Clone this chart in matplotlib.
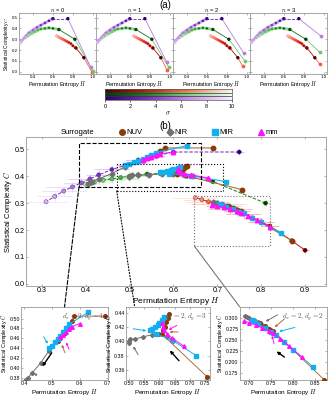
import numpy as np
import matplotlib
matplotlib.use("Agg")
import matplotlib.pyplot as plt
from matplotlib.colors import LinearSegmentedColormap
from matplotlib.lines import Line2D
from matplotlib.patches import Rectangle, ConnectionPatch

plt.rcParams['font.family'] = ['Liberation Sans', 'DejaVu Sans']
plt.rcParams['mathtext.fontset'] = 'cm'

# ---------------- data: panel (a) surrogate curves ----------------
a_sig = [0, 1, 2, 3, 4, 5, 6, 7, 8, 9, 10]
a_Hp = [0.75, 0.60, 0.56, 0.52, 0.48, 0.44, 0.40, 0.36, 0.32, 0.29, 0.27]
a_Cp = [0.49, 0.49, 0.47, 0.45, 0.43, 0.41, 0.385, 0.36, 0.32, 0.29, 0.27]
a_Hg = [0.82, 0.66, 0.60, 0.56, 0.52, 0.48, 0.45, 0.42, 0.39, 0.36, 0.33]
a_Cg = [0.30, 0.39, 0.40, 0.405, 0.40, 0.395, 0.385, 0.37, 0.355, 0.34, 0.32]
a_Hr = [0.91, 0.83, 0.80, 0.78, 0.76, 0.74, 0.72, 0.70, 0.68, 0.66, 0.64]
a_Cr = [0.13, 0.22, 0.24, 0.26, 0.27, 0.28, 0.29, 0.30, 0.31, 0.32, 0.33]
n_labels = ['0', '1', '2', '3']
end_Hp = [0.98, 0.97, 0.97, 0.97]
end_Cp = [0.04, 0.09, 0.17, 0.33]
end_Hg = [1.00, 0.99, 0.98, 0.96]
end_Cg = [0.01, 0.04, 0.10, 0.18]
end_Hr = [0.99, 0.97, 0.96, 0.96]
end_Cr = [0.00, 0.02, 0.05, 0.07]

# ---------------- data: panel (b) surrogate curves ----------------
b_sig = [0, 0.5, 1, 1.5, 2, 3, 4, 5, 6, 7, 8, 9, 10]
b_Hp = [0.75, 0.60, 0.56, 0.52, 0.49, 0.46, 0.43, 0.41, 0.39, 0.37, 0.35, 0.33, 0.31]
b_Cp = [0.49, 0.49, 0.475, 0.46, 0.44, 0.425, 0.405, 0.39, 0.375, 0.36, 0.345, 0.325, 0.305]
b_Hg = [0.81, 0.69, 0.63, 0.60, 0.57, 0.54, 0.52, 0.50, 0.48, 0.46, 0.44, 0.42, 0.40]
b_Cg = [0.30, 0.38, 0.40, 0.41, 0.41, 0.408, 0.405, 0.40, 0.395, 0.39, 0.385, 0.378, 0.37]
b_Hr = [0.90, 0.87, 0.82, 0.80, 0.78, 0.76, 0.745, 0.73, 0.715, 0.70, 0.68, 0.665, 0.65]
b_Cr = [0.125, 0.16, 0.215, 0.23, 0.245, 0.26, 0.27, 0.28, 0.29, 0.295, 0.305, 0.313, 0.32]
b_xerr = [0.01, 0.01, 0.02, 0.03, 0.02, 0.04, 0.03, 0.05, 0.04, 0.06, 0.05, 0.04, 0.05]
b_yerr = [0.01, 0.01, 0.012, 0.015, 0.012, 0.015, 0.018, 0.02, 0.018, 0.02, 0.015, 0.02, 0.018]

# ---------------- data: observations (dy = 4, 3, 2) ----------------
NUV_H4 = [0.52, 0.53, 0.545, 0.56, 0.57, 0.58, 0.69]
NUV_C4 = [0.455, 0.46, 0.47, 0.48, 0.495, 0.505, 0.505]
NIR_H4 = [0.405, 0.408, 0.412, 0.415, 0.43, 0.46, 0.49, 0.52]
NIR_C4 = [0.372, 0.375, 0.377, 0.38, 0.39, 0.41, 0.435, 0.455]
MIR_H4 = [0.49, 0.50, 0.51, 0.52, 0.53, 0.54, 0.55, 0.56, 0.63]
MIR_C4 = [0.44, 0.445, 0.452, 0.458, 0.465, 0.472, 0.48, 0.488, 0.513]
mm_H4 = [0.53, 0.54, 0.55, 0.56, 0.57, 0.60]
mm_C4 = [0.462, 0.467, 0.472, 0.478, 0.483, 0.49]

NUV_H3 = [0.757, 0.608, 0.612, 0.617, 0.622, 0.627, 0.632]
NUV_C3 = [0.35, 0.41, 0.415, 0.42, 0.427, 0.433, 0.438]
NIR_H3 = [0.50, 0.502, 0.505, 0.52, 0.545, 0.575, 0.60, 0.625, 0.645]
NIR_C3 = [0.398, 0.401, 0.403, 0.403, 0.406, 0.409, 0.41, 0.406, 0.40]
MIR_H3 = [0.72, 0.64, 0.59, 0.57, 0.575, 0.585, 0.595, 0.60, 0.61, 0.615]
MIR_C3 = [0.38, 0.402, 0.41, 0.415, 0.417, 0.42, 0.423, 0.426, 0.43, 0.434]
mm_H3 = [0.68, 0.64, 0.625, 0.615, 0.612, 0.61]
mm_C3 = [0.393, 0.405, 0.41, 0.415, 0.42, 0.425]

NUV_H2 = [0.725, 0.735, 0.745, 0.755, 0.87]
NUV_C2 = [0.288, 0.281, 0.275, 0.27, 0.161]
NIR_H2 = [0.69, 0.695, 0.70, 0.71, 0.72, 0.73, 0.74, 0.75]
NIR_C2 = [0.305, 0.302, 0.30, 0.295, 0.29, 0.284, 0.278, 0.272]
MIR_H2 = [0.705, 0.71, 0.72, 0.735, 0.75, 0.76, 0.78, 0.80, 0.845]
MIR_C2 = [0.296, 0.292, 0.286, 0.278, 0.268, 0.262, 0.245, 0.228, 0.19]
mm_H2 = [0.688, 0.70, 0.715, 0.73, 0.745, 0.755, 0.77, 0.79, 0.82]
mm_C2 = [0.293, 0.289, 0.284, 0.277, 0.27, 0.265, 0.253, 0.236, 0.212]

# ---------------- styles ----------------
cm_r = LinearSegmentedColormap.from_list('r', ['#4a0000', '#d01010', '#ff7050', '#fff4f0'])
cm_g = LinearSegmentedColormap.from_list('g', ['#003a00', '#1a8a1a', '#80d880', '#f4fff4'])
cm_p = LinearSegmentedColormap.from_list('p', ['#2a006e', '#7a30c0', '#c890e8', '#fbf2ff'])
C_NUV, C_NUVL = '#8b3a0a', '#b07040'
C_NIR = '#707070'
C_MIR = '#10b0f0'
C_mm = '#ff10ff'
SPINE = '#999999'

GROUPS = {
    4: [(NIR_H4, NIR_C4), (NUV_H4, NUV_C4), (MIR_H4, MIR_C4), (mm_H4, mm_C4)],
    3: [(NIR_H3, NIR_C3), (NUV_H3, NUV_C3), (MIR_H3, MIR_C3), (mm_H3, mm_C3)],
    2: [(NIR_H2, NIR_C2), (NUV_H2, NUV_C2), (MIR_H2, MIR_C2), (mm_H2, mm_C2)],
}

fig = plt.figure(figsize=(3.31, 4.0), dpi=100)


def style(ax, fs, pad=1.2):
    for s in ax.spines.values():
        s.set_color(SPINE)
        s.set_linewidth(0.6)
    ax.tick_params(direction='in', top=True, right=True, labelsize=fs,
                   width=0.4, length=1.5, color='#777777', pad=pad)


# ---------------- panel (a) ----------------
fig.text(0.5, 0.988, '(a)', ha='center', va='center', fontsize=7)
for i, n in enumerate(n_labels):
    ax = fig.add_axes([0.057 + i * 0.2326, 0.815, 0.2326, 0.152])
    style(ax, 3.2, pad=0.8)
    for H, C, cm, eH, eC, ls in [(a_Hr, a_Cr, cm_r, end_Hr[i], end_Cr[i], '-'),
                                 (a_Hg, a_Cg, cm_g, end_Hg[i], end_Cg[i], '-'),
                                 (a_Hp, a_Cp, cm_p, end_Hp[i], end_Cp[i], '--')]:
        cols = [cm(s / 10 * 0.85) for s in a_sig]
        ax.plot([H[0], eH], [C[0], eC], '-', color=cm(0.6), lw=0.6, zorder=2)
        ax.plot(H[:2], C[:2], ls, color=cm(0.25), lw=0.6, zorder=2)
        ax.plot(H[1:], C[1:], '-', color=cm(0.5), lw=2.0, alpha=0.6, zorder=2)
        for k, s in enumerate(a_sig):
            ax.errorbar(H[k], C[k], xerr=0.02, yerr=0.015, fmt='none',
                        ecolor=cm(0.7), elinewidth=0.4, alpha=0.6, zorder=1)
        ax.scatter(H, C, s=[6 if k < 2 else 3 for k in range(len(H))], c=cols,
                   edgecolors='none', zorder=3)
        ax.scatter([eH], [eC], s=3, color=cm(0.6), zorder=3)
    ax.set_xlim(0.26, 1.03)
    ax.set_ylim(-0.02, 0.54)
    ax.set_xticks([0.4, 0.6, 0.8, 1.0])
    ax.set_yticks([0.0, 0.1, 0.2, 0.3, 0.4, 0.5])
    ax.set_title('$n$ = ' + n, fontsize=4.2, pad=1.2)
    ax.set_xlabel('Permutation Entropy $H$', fontsize=4.0, labelpad=0)
    if i == 0:
        ax.set_ylabel('Statistical Complexity $C$', fontsize=3.6, labelpad=0.5)
    else:
        ax.tick_params(labelleft=False)

# ---------------- colorbar ----------------
cax = fig.add_axes([0.317, 0.75, 0.384, 0.028])
grad = np.linspace(0, 1, 256)
img = np.stack([cm_r(grad), cm_g(grad), cm_p(grad)])
cax.imshow(img, extent=[0, 10, 0, 3], aspect='auto')
for yy in [1, 2]:
    cax.axhline(yy, color='#333333', lw=0.5)
cax.set_yticks([])
cax.set_xticks([0, 2, 4, 6, 8, 10])
for s in cax.spines.values():
    s.set_color('#555555')
    s.set_linewidth(0.5)
cax.tick_params(labelsize=4, length=1.5, width=0.4, pad=1.5)
cax.set_xlabel(r'$\sigma$', fontsize=5, labelpad=1)

# ---------------- panel (b) ----------------
fig.text(0.5, 0.685, '(b)', ha='center', va='center', fontsize=7)
ax = fig.add_axes([0.078, 0.285, 0.906, 0.372])
style(ax, 5.2, pad=1.0)


def surrogate(ax, H, C, cm, ls, lw):
    for k, s in enumerate(b_sig):
        ax.errorbar(H[k], C[k], xerr=b_xerr[k], yerr=b_yerr[k], fmt='none',
                    ecolor=cm(0.55 + s / 30), elinewidth=0.6, alpha=0.55, zorder=1)
    ax.plot(H, C, ls, color=cm(0.3), lw=lw, zorder=2)
    ax.scatter(H, C, s=9, c=[cm(s / 10 * 0.8) for s in b_sig],
               edgecolors=[cm(0.2)], linewidths=0.3, zorder=3)


surrogate(ax, b_Hr, b_Cr, cm_r, '-', 0.7)
surrogate(ax, b_Hg, b_Cg, cm_g, '--', 0.7)
surrogate(ax, b_Hp, b_Cp, cm_p, '--', 0.7)


def obs(ax, groups, ms, lw):
    for g in groups:
        (nirH, nirC), (nuvH, nuvC), (mirH, mirC), (mmH, mmC) = GROUPS[g]
        ax.plot(nirH, nirC, '-', color=C_NIR, lw=lw, marker='D', ms=ms * 0.8, zorder=4)
        ax.plot(nuvH, nuvC, '-', color=C_NUVL, lw=lw, marker='o', ms=ms,
                mfc=C_NUV, mec=C_NUV, zorder=4)
        ax.plot(mirH, mirC, '-', color=C_MIR, lw=lw, marker='s', ms=ms, zorder=5)
        ax.plot(mmH, mmC, '-', color=C_mm, lw=lw, marker='^', ms=ms, zorder=5)


obs(ax, [4, 3, 2], 3.2, 0.8)
ax.set_xlim(0.264, 0.947)
ax.set_ylim(-0.008, 0.545)
ax.set_xticks([0.3, 0.4, 0.5, 0.6, 0.7, 0.8, 0.9])
ax.set_yticks([0.0, 0.1, 0.2, 0.3, 0.4, 0.5])
ax.set_xlabel('Permutation Entropy $H$', fontsize=6.0, labelpad=0.3)
ax.set_ylabel('Statistical Complexity $C$', fontsize=5.5, labelpad=0.5)

rects = [((0.385, 0.36), 0.662 - 0.385, 0.522 - 0.36, '--', 'black'),
         ((0.471, 0.345), 0.714 - 0.471, 0.445 - 0.345, ':', 'black'),
         ((0.648, 0.14), 0.821 - 0.648, 0.327 - 0.14, ':', '#777777')]
for xy, w, h, ls, col in rects:
    ax.add_patch(Rectangle(xy, w, h, fill=False, ls=ls, lw=0.8, ec=col, zorder=6))

handles = [Line2D([], [], ls='none', label='Surrogate'),
           Line2D([], [], ls='none', marker='o', color=C_NUV, ms=4, label='NUV'),
           Line2D([], [], ls='none', marker='D', color=C_NIR, ms=3.5, label='NIR'),
           Line2D([], [], ls='none', marker='s', color=C_MIR, ms=5, label='MIR'),
           Line2D([], [], ls='none', marker='^', color=C_mm, ms=5, label='mm')]
fig.legend(handles=handles, loc='center', bbox_to_anchor=(0.5, 0.668), ncol=5,
           frameon=False, fontsize=5.5, handlelength=0.8, handletextpad=0.2,
           columnspacing=3.2)

# ---------------- insets ----------------
insets = [
    ([0.064, 0.05, 0.262, 0.183], (0.39, 0.70), (0.375, 0.524),
     [0.4, 0.5, 0.6, 0.7], [0.38, 0.40, 0.42, 0.44, 0.46, 0.48, 0.50], '%.1f', '%.2f',
     r'$d_x = 2, d_y = 4$', (0.5, 1.0), '--', 'black', 4),
    ([0.38, 0.05, 0.255, 0.183], (0.49, 0.766), (0.346, 0.448),
     [0.50, 0.55, 0.60, 0.65, 0.70, 0.75], [0.36, 0.38, 0.40, 0.42, 0.44], '%.2f', '%.2f',
     r'$d_x = 2, d_y = 3$', (0.105, 1.0), ':', 'black', 3),
    ([0.724, 0.05, 0.264, 0.183], (0.678, 0.877), (0.16, 0.325),
     [0.70, 0.75, 0.80, 0.85], [0.175, 0.200, 0.225, 0.250, 0.275, 0.300], '%.2f', '%.3f',
     r'$d_x = 2, d_y = 2$', (0.0, 1.0), '-', '#777777', 2),
]
arrows = [
    [((0.465, 0.468), (0.49, 0.444), C_MIR), ((0.55, 0.425), (0.532, 0.452), C_NUVL),
     ((0.565, 0.432), (0.547, 0.457), C_mm), ((0.455, 0.383), (0.426, 0.39), C_NIR),
     ((0.505, 0.435), (0.46, 0.398), 'black')],
    [((0.505, 0.418), (0.566, 0.414), C_MIR), ((0.665, 0.424), (0.622, 0.414), C_mm),
     ((0.67, 0.413), (0.624, 0.413), C_NUVL), ((0.535, 0.378), (0.51, 0.396), C_NIR),
     ((0.67, 0.37), (0.628, 0.39), 'black')],
    [((0.77, 0.31), (0.732, 0.289), C_NIR), ((0.785, 0.302), (0.753, 0.275), C_NUVL),
     ((0.81, 0.28), (0.762, 0.268), C_MIR), ((0.758, 0.236), (0.75, 0.266), C_mm),
     ((0.785, 0.208), (0.757, 0.228), 'black')],
]
for idx, ((pos, xl, yl, xt, yt, xf, yf, txt, conn, cls, ccol, grp), arr) in enumerate(zip(insets, arrows)):
    ia = fig.add_axes(pos)
    style(ia, 3.8, pad=0.8)
    obs(ia, [grp], 2.6, 0.7)
    for tail, head, col in arr:
        ia.annotate('', xy=head, xytext=tail,
                    arrowprops=dict(arrowstyle='-|>', color=col,
                                    lw=1.0 if col == 'black' else 0.7,
                                    mutation_scale=4 if col == 'black' else 3),
                    zorder=7)
    ia.set_xlim(*xl)
    ia.set_ylim(*yl)
    ia.set_xticks(xt)
    ia.set_yticks(yt)
    ia.set_xticklabels([xf % v for v in xt])
    ia.set_yticklabels([yf % v for v in yt])
    ia.set_xlabel('Permutation Entropy $H$', fontsize=4.6, labelpad=0.3)
    ia.set_ylabel('Statistical Complexity $C$', fontsize=4.0, labelpad=0.3)
    ia.text(0.96, 0.93, txt, transform=ia.transAxes, ha='right', va='top',
            fontsize=5.2, color='#555555', zorder=8)
    rect = rects[idx]
    cp = ConnectionPatch(xyA=rect[0], coordsA=ax.transData, xyB=conn,
                         coordsB=ia.transAxes, ls=cls, lw=0.8, color=ccol)
    fig.add_artist(cp)

fig.savefig('out.png', dpi=100)
